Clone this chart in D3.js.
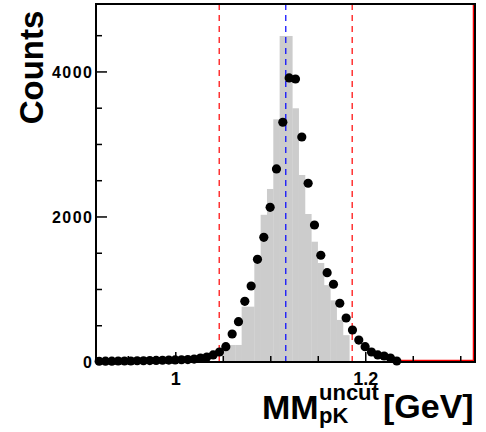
<!DOCTYPE html>
<html><head><meta charset="utf-8">
<script src="https://cdn.jsdelivr.net/npm/d3@7"></script>
<style>body{margin:0;background:#fff}svg{display:block}text{font-family:"Liberation Sans",Arial,sans-serif;font-weight:bold}</style>
</head><body>
<svg id="c" width="486" height="432"></svg>
<script>
// histogram definition (ROOT-like): nBins, low edge, high edge
const nBins = 60, xLow = 0.916, xHigh = 1.316;
// gray (filled) histogram counts, bins 0..59
const grayCounts = [0,0,0,0,0,0,0,0,0,0, 0,0,0,0,0,0,0,0,0,0,
  235,235,235,763,763,1361,2030,2386,3347,4496,
  4496,3499,2579,2041,1659,1365,1060,850,580,370,
  0,0,0,0,0,0,0,0,0,0, 0,0,0,0,0,0,0,0,0,0];
// data points (markers), bins 0..47
const pointCounts = [10,12,12,14,14,14,17,17,20,22,24,26,28,31,34,41,55,69,97,138,
  211,386,556,837,1048,1416,1720,2133,2662,3306,3917,3903,3103,2465,1889,1472,1232,1072,810,607,
  441,303,211,138,97,83,55,14];
// cut lines
const cutLines = [1.0457, 1.1857];
const meanLine = [1.1158];
// red outline
const redOutline = [[1.2326,0],[1.3134,0],[1.3134,4937]];
const xMajorTicks = [1.0, 1.2];
const xTickLabels = ["1", "1.2"];
const xMinorTicks = [0.95,1.05,1.1,1.15,1.25,1.3];
const yMajorTicks = [0, 2000, 4000];
const yTickLabels = ["0", "2000", "4000"];
const yMinorTicks = [500,1000,1500,2500,3000,3500,4500];

const svg = d3.select("#c");
const x = d3.scaleLinear().domain([0.916, 1.315]).range([96, 475]);
const y = d3.scaleLinear().domain([0, 4937]).range([362, 4]);
const bw = (xHigh - xLow) / nBins;
const edge = k => xLow + k * bw;

// gray histogram as step area
const g = svg.append("g");
grayCounts.forEach((v, k) => {
  if (v > 0) g.append("rect").attr("x", x(edge(k))).attr("y", y(v))
    .attr("width", x(edge(k+1)) - x(edge(k)) + 0.3).attr("height", y(0) - y(v))
    .attr("fill", "#cccccc");
});

// dashed lines
svg.selectAll(".cut").data(cutLines).enter().append("line")
  .attr("x1", d => x(d)).attr("x2", d => x(d)).attr("y1", y.range()[1]).attr("y2", y.range()[0])
  .attr("stroke", "#ff0000").attr("stroke-width", 1.2).attr("stroke-dasharray", "6,5");
svg.selectAll(".mean").data(meanLine).enter().append("line")
  .attr("x1", d => x(d)).attr("x2", d => x(d)).attr("y1", y.range()[1]).attr("y2", y.range()[0])
  .attr("stroke", "#0000ff").attr("stroke-width", 1.2).attr("stroke-dasharray", "6,5");

// red outline
svg.append("path").attr("d", d3.line().x(d => x(d[0])).y(d => y(d[1]) - (d[1] === 0 ? 1.5 : 0))(redOutline))
  .attr("fill", "none").attr("stroke", "#ff0000").attr("stroke-width", 1.5);

// frame
svg.append("rect").attr("x", 96).attr("y", 4).attr("width", 379).attr("height", 358)
  .attr("fill", "none").attr("stroke", "#000").attr("stroke-width", 2);

// x ticks (inside, upward)
svg.selectAll(".xmaj").data(xMajorTicks).enter().append("line")
  .attr("x1", d => x(d)).attr("x2", d => x(d)).attr("y1", 362).attr("y2", 352)
  .attr("stroke", "#000").attr("stroke-width", 1.5);
svg.selectAll(".xmin").data(xMinorTicks).enter().append("line")
  .attr("x1", d => x(d)).attr("x2", d => x(d)).attr("y1", 362).attr("y2", 356)
  .attr("stroke", "#000").attr("stroke-width", 1.5);
svg.selectAll(".xl").data(xMajorTicks).enter().append("text")
  .attr("x", d => x(d)).attr("y", 385).attr("text-anchor", "middle")
  .attr("font-size", 18).text((d, i) => xTickLabels[i]);

// y ticks (inside, rightward)
svg.selectAll(".ymaj").data(yMajorTicks).enter().append("line")
  .attr("x1", 96).attr("x2", 107).attr("y1", d => y(d)).attr("y2", d => y(d))
  .attr("stroke", "#000").attr("stroke-width", 1.5);
svg.selectAll(".ymin").data(yMinorTicks).enter().append("line")
  .attr("x1", 96).attr("x2", 102).attr("y1", d => y(d)).attr("y2", d => y(d))
  .attr("stroke", "#000").attr("stroke-width", 1.5);
svg.selectAll(".yl").data(yMajorTicks).enter().append("text")
  .attr("x", 92).attr("y", d => y(d) + 6).attr("text-anchor", "end")
  .attr("font-size", 16).attr("textLength", (d,i) => yTickLabels[i].length === 4 ? 40 : null)
  .text((d, i) => yTickLabels[i]);

// points
svg.selectAll(".pt").data(pointCounts).enter().append("circle")
  .attr("cx", (d, k) => x(edge(k) + bw / 2)).attr("cy", d => y(d)).attr("r", 4.6)
  .attr("fill", "#000");

// titles
svg.append("text").attr("transform", "translate(43,67.5) rotate(-90)")
  .attr("text-anchor", "middle").attr("font-size", 33).text("Counts");
svg.append("text").attr("x", 262).attr("y", 419).attr("font-size", 34).text("MM");
svg.append("text").attr("x", 319).attr("y", 400).attr("font-size", 22).text("uncut");
svg.append("text").attr("x", 319).attr("y", 423).attr("font-size", 22).text("pK");
svg.append("text").attr("x", 383).attr("y", 418).attr("font-size", 34).text("[GeV]");
</script>
</body></html>
